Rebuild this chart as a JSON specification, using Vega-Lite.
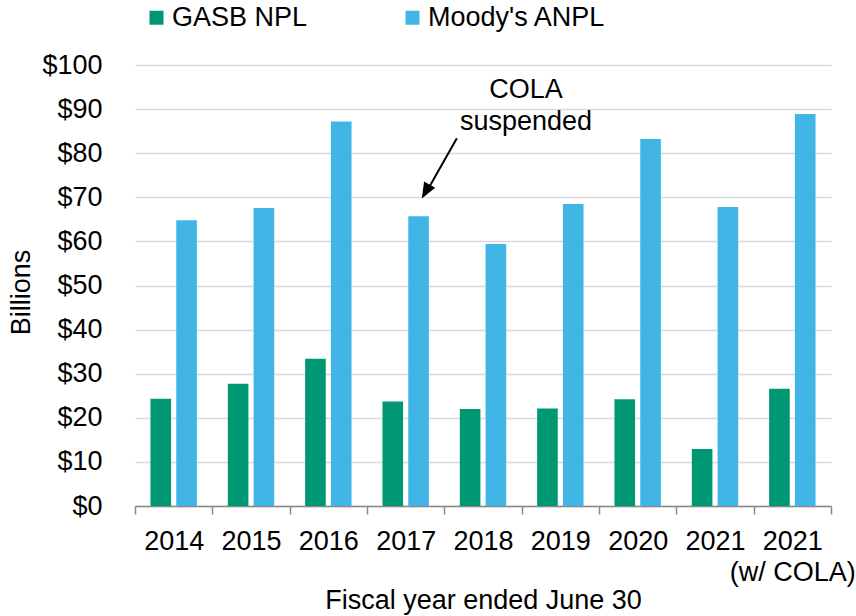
{
  "$schema": "https://vega.github.io/schema/vega-lite/v6.json",
  "width": 696,
  "height": 441,
  "autosize": {"type": "none"},
  "padding": {"left": 135, "top": 65, "right": 25, "bottom": 110},
  "background": "white",
  "config": {
    "font": "Liberation Sans",
    "view": {"stroke": null},
    "axis": {"labelFont": "Liberation Sans", "titleFont": "Liberation Sans", "labelFontSize": 27, "titleFontSize": 27, "labelColor": "#000000", "titleColor": "#000000", "titleFontWeight": "normal"},
    "legend": {"labelFont": "Liberation Sans"}
  },
  "datasets": {
    "bars": [
      {"year": "2014", "measure": "GASB NPL", "value": 24.3},
      {"year": "2015", "measure": "GASB NPL", "value": 27.7},
      {"year": "2016", "measure": "GASB NPL", "value": 33.4},
      {"year": "2017", "measure": "GASB NPL", "value": 23.7},
      {"year": "2018", "measure": "GASB NPL", "value": 22.0},
      {"year": "2019", "measure": "GASB NPL", "value": 22.1},
      {"year": "2020", "measure": "GASB NPL", "value": 24.2},
      {"year": "2021", "measure": "GASB NPL", "value": 12.9},
      {"year": "2021|(w/ COLA)", "measure": "GASB NPL", "value": 26.6},
      {"year": "2014", "measure": "Moody's ANPL", "value": 64.8},
      {"year": "2015", "measure": "Moody's ANPL", "value": 67.6},
      {"year": "2016", "measure": "Moody's ANPL", "value": 87.2},
      {"year": "2017", "measure": "Moody's ANPL", "value": 65.7},
      {"year": "2018", "measure": "Moody's ANPL", "value": 59.4},
      {"year": "2019", "measure": "Moody's ANPL", "value": 68.5},
      {"year": "2020", "measure": "Moody's ANPL", "value": 83.2},
      {"year": "2021", "measure": "Moody's ANPL", "value": 67.8},
      {"year": "2021|(w/ COLA)", "measure": "Moody's ANPL", "value": 88.9}
    ],
    "notes": [
      {"pos": 5.056, "value": 92.5, "text": "COLA"},
      {"pos": 5.056, "value": 85.3, "text": "suspended"}
    ],
    "arrowLine": [
      {"pos": 4.162, "value": 83.4, "pos2": 3.772, "value2": 71.3}
    ],
    "arrowHead": [
      {"pos": 3.709, "value": 69.7}
    ]
  },
  "resolve": {"scale": {"x": "independent"}, "axis": {"x": "independent"}},
  "layer": [
    {
      "data": {"name": "bars"},
      "mark": {"type": "bar"},
      "encoding": {
        "x": {
          "field": "year", "type": "nominal", "sort": null,
          "title": "Fiscal year ended June 30",
          "scale": {"paddingInner": 0, "paddingOuter": 0},
          "axis": {
            "tickBand": "extent", "tickSize": 8, "tickColor": "#888888", "tickWidth": 1.5,
            "domainColor": "#888888", "domainWidth": 1.5, "grid": false,
            "labelAngle": 0, "labelPadding": 14, "labelBaseline": "top",
            "labelExpr": "isValid(datum.value) ? split(datum.value, '|') : ''", "labelLineHeight": 31,
            "titleY": 102, "titleBaseline": "alphabetic"
          }
        },
        "xOffset": {
          "field": "measure", "type": "nominal", "sort": ["GASB NPL", "Moody's ANPL"],
          "scale": {"paddingInner": 0.2, "paddingOuter": 0.6}
        },
        "y": {
          "field": "value", "type": "quantitative", "title": "Billions",
          "scale": {"domain": [0, 100], "nice": false},
          "axis": {
            "values": [0, 10, 20, 30, 40, 50, 60, 70, 80, 90, 100],
            "labelExpr": "'$' + datum.value",
            "domain": false, "ticks": false, "grid": true,
            "gridColor": "#d9d9d9", "gridWidth": 1.5,
            "labelPadding": 33,
            "titleAngle": -90, "titleX": -106, "titleY": 227,
            "titleBaseline": "alphabetic", "titleAlign": "center"
          }
        },
        "color": {
          "field": "measure", "type": "nominal",
          "scale": {"domain": ["GASB NPL", "Moody's ANPL"], "range": ["#009873", "#41B6E6"]},
          "legend": {
            "orient": "none", "legendX": 8, "legendY": -61,
            "direction": "horizontal", "title": null,
            "symbolType": "square", "symbolSize": 196, "symbolStrokeWidth": 0, "symbolOpacity": 1,
            "labelFontSize": 27, "labelColor": "#000000", "labelOffset": 2, "labelLimit": 400,
            "columnPadding": 91, "padding": 0
          }
        }
      }
    },
    {
      "data": {"name": "notes"},
      "mark": {"type": "text", "fontSize": 27, "align": "center", "baseline": "alphabetic", "color": "#000000", "font": "Liberation Sans"},
      "encoding": {
        "x": {"field": "pos", "type": "quantitative", "scale": {"domain": [0, 9], "nice": false, "zero": false}, "axis": null},
        "y": {"field": "value", "type": "quantitative", "title": "Billions"},
        "text": {"field": "text", "type": "nominal"}
      }
    },
    {
      "data": {"name": "arrowLine"},
      "mark": {"type": "rule", "color": "#000000", "strokeWidth": 2},
      "encoding": {
        "x": {"field": "pos", "type": "quantitative", "scale": {"domain": [0, 9], "nice": false, "zero": false}, "axis": null},
        "x2": {"field": "pos2"},
        "y": {"field": "value", "type": "quantitative", "title": "Billions"},
        "y2": {"field": "value2"}
      }
    },
    {
      "data": {"name": "arrowHead"},
      "mark": {"type": "point", "shape": "M0,0L-0.4,1L0.4,1Z", "filled": true, "color": "#000000", "opacity": 1, "size": 1024, "angle": 209.3, "strokeWidth": 0},
      "encoding": {
        "x": {"field": "pos", "type": "quantitative", "scale": {"domain": [0, 9], "nice": false, "zero": false}, "axis": null},
        "y": {"field": "value", "type": "quantitative", "title": "Billions"}
      }
    }
  ]
}
